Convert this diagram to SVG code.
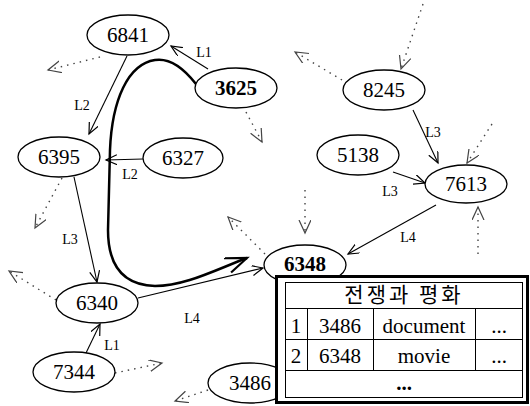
<svg xmlns="http://www.w3.org/2000/svg" width="530" height="406" viewBox="0 0 530 406">
<style>
.n ellipse{fill:#fff;stroke:#000;stroke-width:1.3}
.n text{font-family:"Liberation Serif","Times New Roman",serif;font-size:21px;text-anchor:middle;fill:#000}
.b text{font-weight:bold}
.e{stroke:#000;stroke-width:1.1;fill:none}
.d{stroke:#444;stroke-width:1.4;fill:none;stroke-dasharray:1.5 5}
.lbl{font-family:"Liberation Serif","Times New Roman",serif;font-size:14px;text-anchor:middle;fill:#000}
.t{font-family:"Liberation Serif","Times New Roman",serif;font-size:21px;text-anchor:middle;fill:#000}
.k{font-family:"Noto Sans CJK KR",sans-serif;font-size:21px;text-anchor:middle;fill:#000;letter-spacing:3px}
.ln{stroke:#000;stroke-width:1;fill:none}
</style>
<defs>
<marker id="a" markerUnits="userSpaceOnUse" markerWidth="14" markerHeight="12" refX="11" refY="5" orient="auto">
<path d="M0,0 L11,5 L0,10" fill="none" stroke="#000" stroke-width="1.2"/>
</marker>
<marker id="ad" markerUnits="userSpaceOnUse" markerWidth="16" markerHeight="14" refX="13" refY="6" orient="auto">
<path d="M0,0 L13,6 L0,12" fill="none" stroke="#444" stroke-width="1.2"/>
</marker>
<marker id="ab" markerUnits="userSpaceOnUse" markerWidth="26" markerHeight="18" refX="22" refY="8" orient="auto">
<path d="M0,0 L22,8 L2,16" fill="none" stroke="#000" stroke-width="2.2"/>
</marker>
</defs>

<g id="connectors">
<path class="e" d="M208,69 L171,46" marker-end="url(#a)"/>
<path class="e" d="M127,56 L89,134" marker-end="url(#a)"/>
<path class="e" d="M143,159 L106,160" marker-end="url(#a)"/>
<path class="e" d="M74,177 L97,282" marker-end="url(#a)"/>
<path class="e" d="M86,353 L100,324" marker-end="url(#a)"/>
<path class="e" d="M138,298 L263,268" marker-end="url(#a)"/>
<path class="e" d="M413,110 L438,163" marker-end="url(#a)"/>
<path class="e" d="M393,172 L425,183" marker-end="url(#a)"/>
<path class="e" d="M436,205 L348,254" marker-end="url(#a)"/>
<path d="M196,84 C182,66 168,58 155,60 C128,64 112,100 110,150 L108,230 C108,262 120,285 155,286 C185,286 215,270 247,258" fill="none" stroke="#000" stroke-width="2.5" marker-end="url(#ab)"/>
<path class="d" d="M100,57 L48,70" marker-end="url(#ad)"/>
<path class="d" d="M246,112 L262,142" marker-end="url(#ad)"/>
<path class="d" d="M423,4 L401,69" marker-end="url(#ad)"/>
<path class="d" d="M342,80 L295,52" marker-end="url(#ad)"/>
<path class="d" d="M492,124 L467,163" marker-end="url(#ad)"/>
<path class="d" d="M478,254 L478,207" marker-end="url(#ad)"/>
<path class="d" d="M305,190 L305,233" marker-end="url(#ad)"/>
<path class="d" d="M265,254 L228,217" marker-end="url(#ad)"/>
<path class="d" d="M62,178 L35,228" marker-end="url(#ad)"/>
<path class="d" d="M56,300 L9,271" marker-end="url(#ad)"/>
<path class="d" d="M115,373 L162,363" marker-end="url(#ad)"/>
<path class="d" d="M208,390 L175,401" marker-end="url(#ad)"/>
<text class="lbl" x="204" y="57">L1</text>
<text class="lbl" x="82" y="110">L2</text>
<text class="lbl" x="130" y="179">L2</text>
<text class="lbl" x="70" y="244">L3</text>
<text class="lbl" x="112" y="350">L1</text>
<text class="lbl" x="192" y="323">L4</text>
<text class="lbl" x="433" y="137">L3</text>
<text class="lbl" x="390" y="196">L3</text>
<text class="lbl" x="408" y="242">L4</text>
</g>

<g id="n6841" class="n"><ellipse cx="128" cy="35" rx="41" ry="20"/><text x="128" y="42">6841</text></g>
<g id="n3625" class="n b"><ellipse cx="236" cy="88" rx="41" ry="20"/><text x="236" y="95">3625</text></g>
<g id="n6395" class="n"><ellipse cx="59" cy="157" rx="41" ry="20"/><text x="59" y="164">6395</text></g>
<g id="n6327" class="n"><ellipse cx="183" cy="158" rx="40" ry="20"/><text x="183" y="165">6327</text></g>
<g id="n8245" class="n"><ellipse cx="384" cy="90" rx="41" ry="20"/><text x="384" y="97">8245</text></g>
<g id="n5138" class="n"><ellipse cx="358" cy="155" rx="41" ry="20"/><text x="358" y="162">5138</text></g>
<g id="n7613" class="n"><ellipse cx="466" cy="184" rx="41" ry="19"/><text x="466" y="191">7613</text></g>
<g id="n6340" class="n"><ellipse cx="97" cy="303" rx="41" ry="20"/><text x="97" y="310">6340</text></g>
<g id="n7344" class="n"><ellipse cx="74" cy="372" rx="41" ry="20"/><text x="74" y="379">7344</text></g>
<g id="n3486" class="n"><ellipse cx="250" cy="383" rx="42" ry="20"/><text x="250" y="390">3486</text></g>
<g id="n6348" class="n b"><ellipse cx="305" cy="265" rx="41" ry="20"/><text x="305" y="271">6348</text></g>

<g id="table">
<rect x="276.5" y="276.5" width="251" height="126" fill="#fff" stroke="#000" stroke-width="3"/>
<rect x="285.5" y="282.5" width="237" height="115" fill="#fff" stroke="#000" stroke-width="1"/>
<path class="ln" d="M285.5,308.5 H522.5 M285.5,339.5 H522.5 M285.5,370.5 H522.5 M307.5,308.5 V370.5 M373.5,308.5 V370.5 M475.5,308.5 V370.5"/>
<text class="k" x="404" y="302">전쟁과 평화</text>
<text class="t" x="296" y="333">1</text>
<text class="t" x="340" y="333">3486</text>
<text class="t" x="424" y="333">document</text>
<text class="t" x="499" y="333">...</text>
<text class="t" x="296" y="363">2</text>
<text class="t" x="340" y="363">6348</text>
<text class="t" x="424" y="363">movie</text>
<text class="t" x="499" y="363">...</text>
<text class="t" x="404" y="390" font-weight="bold">...</text>
</g>
</svg>
